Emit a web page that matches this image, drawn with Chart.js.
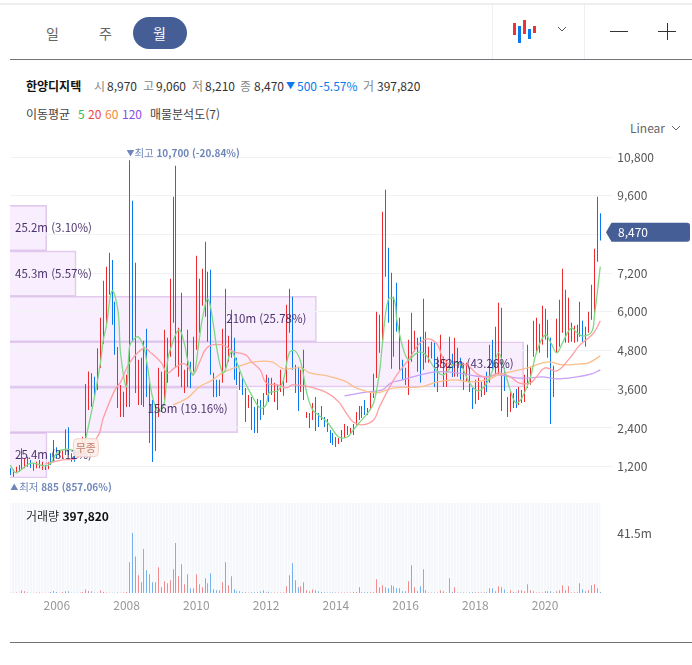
<!DOCTYPE html>
<html lang="ko">
<head>
<meta charset="utf-8">
<title>한양디지텍</title>
<script src="https://cdn.jsdelivr.net/npm/chart.js@4/dist/chart.umd.min.js"></script>
<style>
  html, body { margin: 0; padding: 0; background: #fff; }
  body { position: relative; width: 692px; height: 665px; overflow: hidden; font-family: 'Noto Sans CJK KR', 'Noto Sans', sans-serif; }
  canvas { position: absolute; left: 0; }
  .t { position: absolute; white-space: nowrap; font-size: 12px; line-height: 14px; color: #333; }
  .g { color: #888; }
  .line { position: absolute; }
  .pill { position: absolute; left: 133px; top: 17px; width: 54px; height: 32px; border-radius: 16px; background: #465e96; }
  .ico { position: absolute; width: 3px; }
</style>
</head>
<body>
<div class="line" style="left:0;top:3px;width:692px;height:2px;background:#eeeeee"></div>
<div class="line" style="left:10px;top:59px;width:682px;height:1px;background:#6f7479"></div>
<div class="line" style="left:492px;top:5px;width:1px;height:54px;background:#eef0f4"></div>
<div class="line" style="left:584px;top:5px;width:1px;height:54px;background:#eef0f4"></div>
<div class="pill"></div>
<span class="t" style="left:46px;top:26px;font-size:14px;color:#666">일</span>
<span class="t" style="left:99px;top:26px;font-size:14px;color:#666">주</span>
<span class="t" style="left:153px;top:26px;font-size:14px;color:#fff">월</span>
<div class="ico" style="left:513px;top:23px;height:12px;background:#ee3338"></div>
<div class="ico" style="left:518px;top:26px;height:17px;background:#0a78ee"></div>
<div class="ico" style="left:523px;top:20px;height:14px;background:#ee3338"></div>
<div class="ico" style="left:528px;top:29px;height:10px;background:#0a78ee"></div>
<div class="ico" style="left:533px;top:26px;height:7px;background:#ee3338"></div>
<svg style="position:absolute;left:557px;top:26px" width="10" height="7"><path d="M1 1 L5 5 L9 1" fill="none" stroke="#555" stroke-width="1"/></svg>
<div class="line" style="left:610px;top:31px;width:18px;height:1px;background:#333"></div>
<div class="line" style="left:658px;top:31px;width:18px;height:1px;background:#333"></div>
<div class="line" style="left:667px;top:23px;width:1px;height:17px;background:#333"></div>

<span class="t" style="left:26px;top:79px;font-weight:700;color:#111">한양디지텍</span>
<span class="t g" style="left:94px;top:79px">시</span><span class="t" style="left:107px;top:79px">8,970</span>
<span class="t g" style="left:143px;top:79px">고</span><span class="t" style="left:156px;top:79px">9,060</span>
<span class="t g" style="left:192px;top:79px">저</span><span class="t" style="left:205px;top:79px">8,210</span>
<span class="t g" style="left:240px;top:79px">종</span><span class="t" style="left:254px;top:79px">8,470</span>
<span class="t" style="left:286px;top:79px;color:#0a78ee;font-size:9px">▼</span>
<span class="t" style="left:297px;top:79px;color:#0a78ee">500</span>
<span class="t" style="left:319px;top:79px;color:#0a78ee">-5.57%</span>
<span class="t g" style="left:363px;top:79px">거</span><span class="t" style="left:377px;top:79px">397,820</span>

<span class="t" style="left:26px;top:107px;color:#444">이동평균</span>
<span class="t" style="left:78px;top:107px;color:#3cb54a">5</span>
<span class="t" style="left:88px;top:107px;color:#f0454a">20</span>
<span class="t" style="left:105px;top:107px;color:#f08a3c">60</span>
<span class="t" style="left:122px;top:107px;color:#8a4ee8">120</span>
<span class="t" style="left:150px;top:107px;color:#444">매물분석도(7)</span>
<span class="t" style="left:630px;top:121px;color:#666">Linear</span>
<svg style="position:absolute;left:671px;top:125px" width="10" height="7"><path d="M1 1 L5 5 L9 1" fill="none" stroke="#666" stroke-width="1"/></svg>

<canvas id="profileChart" width="692" height="318" style="top:160px;width:692px;height:318px"></canvas>
<canvas id="priceChart" width="692" height="360" style="top:140px;width:692px;height:360px"></canvas>
<canvas id="volumeChart" width="692" height="137" style="top:483px;width:692px;height:137px"></canvas>
<span class="t" style="left:26px;top:509px;color:#333">거래량 <b style="color:#111;font-weight:700">397,820</b></span>
<div class="line" style="left:10px;top:642px;width:682px;height:1px;background:#6f7479"></div>

<script>
// 월봉 데이터 (2004-09 ~ 2021-08)
const months = [];
for (let y = 2004, m = 9; months.length < 204; m++) {
  if (m > 12) { m = 1; y++; }
  months.push(y + '-' + String(m).padStart(2, '0'));
}

const highPrices = [
  1150,1120,1200,1250,1770,1460,1510,1410,1310,1355,1410,1355,1250,1355,1615,2030,1800,1720,1700,2360,
  2420,1620,1720,1665,1900,2130,3760,4150,4100,3990,4870,5815,6960,7400,7830,7610,6310,4910,3735,3520,
  4046,10700,9445,7521,4511,4573,5101,5473,3922,3270,3084,4263,4139,5442,5194,7025,9569,10531,5504,6590,
  4201,5442,4449,5225,7738,7025,7335,8173,7242,7304,4108,3891,3891,5473,6714,5256,6063,5194,4573,4139,
  3953,3642,3425,3363,3053,3301,3270,3487,4046,3953,3953,3798,3735,4201,3950,6218,6714,6466,4356,4294,
  4201,4822,2898,2867,3177,3363,2867,3084,2743,2680,2339,2246,2122,2091,2339,2525,2463,2401,2525,2898,
  3084,3084,3270,3022,3487,4077,6001,5907,9104,9786,7987,7211,6466,6900,5814,4511,4263,5132,5970,5411,
  5194,5225,6404,5380,4915,5070,5039,4604,5287,4604,4511,5225,4700,5194,4884,4573,4418,4418,4294,3642,
  3891,3953,3829,3953,4139,4977,5132,5535,6280,6125,4263,3363,3580,3487,3611,3673,3580,4046,4977,4294,
  5721,5814,5628,6187,6094,5752,5194,4325,5783,6373,7335,6683,6435,5659,5566,5597,6311,5721,5535,6001,
  6838,7956,9569,9060
];
const lowPrices = [
  940,885,995,1045,1100,1150,1200,1160,1075,1150,1150,1100,1100,1120,1250,1355,1460,1510,1450,1560,
  1560,1355,1355,1470,1510,1925,2080,2960,3060,3370,3580,4260,5005,5630,6530,5600,4670,3020,2740,2740,
  3053,3053,5070,3487,3115,3115,3053,3363,1936,1346,1687,2743,2898,3270,3798,4604,5659,4263,3984,3673,
  3487,3673,3642,4139,4822,5349,6187,5845,5070,4046,3363,3363,3394,3798,4263,4449,4573,3891,3735,3580,
  3425,2587,3022,2339,2246,2246,2649,2805,3425,3208,3425,3208,2960,3518,3400,3798,5349,4201,3487,2929,
  3518,3270,2712,2401,2649,2308,2432,2649,2432,2277,1936,1874,1811,1905,1967,2091,2184,2215,2184,2494,
  2649,2711,2805,2805,2960,3332,3950,4728,4977,7087,5659,4232,4604,5380,4201,3891,3735,3425,4449,4760,
  4139,3798,4201,4418,4418,4550,3673,3518,4263,3673,3673,4201,3980,3984,3984,3891,3580,3829,3518,2991,
  3146,3270,3363,3425,3518,3798,4201,4046,4046,2929,3549,2743,2898,3022,3022,3115,3177,3208,3642,3736,
  4604,4728,4728,4977,5132,4573,2525,3363,4728,4915,5349,5039,5039,5070,5039,5070,5225,5070,4915,5349,
  5752,5907,7552,8210
];
// 1 = 상승(빨강), 0 = 하락(파랑)
const isUp = [
  0,0,1,1,1,1,0,0,1,1,0,1,1,1,0,1,0,0,1,1,
  0,0,0,1,1,1,1,1,1,0,1,1,1,1,0,0,0,0,1,1,
  1,1,0,0,1,0,1,0,1,0,1,1,0,1,1,1,1,0,1,0,
  1,0,0,1,1,1,1,0,1,0,0,0,1,1,0,1,1,0,0,0,
  0,0,1,0,0,1,0,1,1,0,1,1,0,1,0,1,1,0,0,0,
  1,0,1,0,1,0,0,0,0,0,0,0,0,1,1,1,1,1,1,1,
  0,0,0,0,1,1,1,1,1,1,0,0,1,0,0,0,0,1,0,1,
  0,0,1,0,1,1,0,1,1,0,1,1,0,1,0,0,0,1,0,0,
  1,1,1,1,0,1,0,0,1,0,0,0,1,0,0,1,0,1,1,1,
  1,1,0,1,0,0,0,1,1,1,1,0,1,0,1,1,0,0,1,1,
  1,1,1,0
];
const volumes = [
  0.1,0.1,0.4,0.1,1.8,1.2,0.4,0.1,0.1,0.4,0.4,0.1,0.1,0.1,0.7,1.4,0.7,0.1,0.7,1.2,
  1.2,0.1,0.1,0.1,0.4,0.7,2.5,1.4,1.2,0.4,0.4,1.8,0.7,0.4,0.1,0.1,0.1,0.4,0.1,0.4,
  0.7,21.3,41.5,25.3,12.3,7.4,30.4,15.8,13,7.4,7.4,17.8,3.9,8.1,6.7,8.8,16.5,34.5,11.6,19.9,
  6,13,3.2,3.2,13,6,3.9,10.2,6.7,13.7,2.5,1.9,1.9,7.4,21.3,5.3,11.6,2.5,1.2,1.2,
  0.5,0.5,0.4,0.5,0.5,0.5,1,1.9,0.5,0.9,0.4,0.4,0.4,0.3,0.3,4.6,12.3,20.6,8.8,3.9,
  4.6,7.4,1.9,1.2,2.5,1.9,1.2,0.7,0.5,0.3,0.3,0.3,0.3,0.3,0.3,0.3,0.3,0.3,0.7,0.7,
  3.9,0.5,0.6,0.6,0.6,0.6,9.5,3.9,5.3,3.9,3.2,5.3,4.6,3.2,3.2,1.2,1.2,8.1,19.2,3.9,
  1.2,4.6,16.5,1.9,0.4,0.4,0.4,0.4,1.9,1.2,0.4,10.2,0.7,3.9,0.4,0.4,0.4,0.2,0.5,0.5,
  0.5,0.5,0.5,0.5,0.5,3.2,3.2,1.2,4.6,3.9,2.5,0.4,1.9,0.7,0.3,1.9,1.9,1.2,6,1.9,
  1.2,0.4,0.4,0.4,1.2,1.2,1.2,0.4,1.2,1.9,5.3,1.9,4.6,0.4,0.5,0.5,6.7,2.5,1.2,1.9,
  5.3,6,3.2,0.7
];

// 이동평균선 (그림에서 읽은 지점만)
const ma5At = [0,2,7,12,14,16,19,22,25,26,29,31,32,33,35,37,38,40,41,42,44,46,47,49,51,53,54,55,58,60,61,63,65,66,68,70,71,73,74,76,78,80,83,86,88,89,92,94,96,98,100,102,104,106,109,111,113,116,118,120,123,125,127,128,130,132,133,135,137,139,141,143,146,149,153,155,158,161,164,166,168,170,172,174,176,179,181,184,186,188,190,193,195,197,200,201,203];
const ma5Values = [1250,1015,1305,1220,1315,1625,1740,1695,1670,2080,3370,4410,5130,5535,6650,6060,4665,3675,4915,5100,5225,4880,4420,3330,2900,3175,4420,4820,5440,4975,4510,4045,5130,5750,6400,5535,4880,4105,4200,4760,4420,3950,3425,3020,3115,3485,3550,3890,4730,4790,4420,3485,2960,2805,2585,2340,2120,2120,2340,2555,2865,3175,4110,4975,6370,6400,5750,4915,4510,4665,4760,4665,4260,4045,4420,4355,3795,3550,3795,4200,4730,4200,3580,3175,3330,3985,4730,5285,5040,4730,5040,5500,5350,5250,5375,5900,7400];
const ma20At = [12,18,23,30,32,36,38,41,46,48,52,54,57,60,63,65,68,73,77,81,83,86,88,92,95,97,103,109,113,116,118,121,125,127,130,133,137,141,144,147,149,152,157,161,165,168,172,175,179,181,184,188,192,196,199,201,203];
const ma20Values = [1284,1408,1470,2122,2711,3580,3828,4418,4883,4759,4418,4107,4294,4387,4076,4418,4914,4976,4759,4666,4449,4201,3797,3735,3642,3735,3673,3487,3208,2804,2587,2494,2649,3052,3580,4045,4511,5038,5162,4976,4542,4356,4356,4045,3983,4108,3983,3797,3797,3983,4263,4170,4511,4976,5193,5380,5721];
const ma60At = [56,61,65,69,73,78,84,90,94,100,103,109,115,119,126,132,141,147,153,158,164,168,178,185,190,196,199,203];
const ma60Values = [3115,3332,3673,3859,4107,4294,4449,4449,4232,4263,4107,4014,3859,3642,3487,3642,3673,3828,3890,3828,3890,4045,4263,4449,4356,4387,4418,4635];
const ma120At = [115,123,128,131,135,141,146,150,156,163,168,174,179,183,188,195,200,203];
const ma120Values = [3393,3518,3580,3797,3890,4045,4138,4138,4076,3983,4045,3952,3952,3983,3921,3983,4076,4201];

// 매물분석도 (위쪽 구간부터)
const profileBands = ['9297-10700','7895-9297','6493-7895','5091-6493','3689-5091','2287-3689','885-2287'];
const profileEdges = [10700,9297,7895,6493,5091,3689,2287,885];
const profileVolumes = [0, 25.2, 45.3, 210, 352, 156, 25.4];
const profileLabels = ['', '25.2m (3.10%)', '45.3m (5.57%)', '210m (25.78%)', '352m (43.26%)', '156m (19.16%)', '25.4m (3.12%)'];

const priceTicks = [1200,2400,3600,4800,6000,7200,8400,9600,10800];
const hiddenPriceTick = 8400;
const volumeTicks = [41.5];
const lastClose = 8470;
const highMonth = '2008-02';
const lowMonth = '2004-10';
const eventMonth = '2006-11';
const eventPrice = 1790;
const eventLabel = '무종';

const RED = '#ee2a2e', BLUE = '#0a78ee';
const FONT = "'Noto Sans CJK KR', 'Noto Sans', sans-serif";

// 두 차트의 폭을 맞추기 위한 값
const axisWidth = 91.7;

function lineSet(label, at, values, color) {
  return {
    type: 'line', label, order: 1,
    data: at.map((m, k) => ({ x: months[m], y: values[k] })),
    borderColor: color, borderWidth: 1.3, pointRadius: 0, tension: 0.4, fill: false, clip: false
  };
}

// 봉이 번지지 않게 픽셀에 맞춘다
const snapBars = {
  id: 'snapBars',
  afterDatasetsUpdate(chart) {
    chart.getSortedVisibleDatasetMetas().forEach(meta => {
      if (meta.type !== 'bar') return;
      meta.data.forEach(bar => { bar.x = Math.floor(bar.x) + 0.5; });
    });
  }
};

// 매물분석도는 시세 차트 뒤에 따로 그린다
const profileChart = new Chart(document.getElementById('profileChart').getContext('2d'), {
  type: 'bar',
  data: {
    labels: profileBands,
    datasets: [{
      label: '매물', data: profileVolumes,
      backgroundColor: 'rgba(235,198,248,0.3)',
      borderColor: 'rgba(205,170,225,0.6)', borderWidth: 1,
      barPercentage: 1, categoryPercentage: 1
    }]
  },
  options: {
    indexAxis: 'y',
    responsive: false,
    animation: false,
    layout: { padding: { left: 10, right: 91, top: 0, bottom: 0 } },
    plugins: { legend: { display: false }, tooltip: { enabled: false } },
    scales: {
      x: { display: false, min: 0, max: 405 },
      y: { display: false }
    }
  }
});

// 라벨, 최고/최저, 현재가 표시
const overlay = {
  id: 'overlay',
  afterDraw(chart) {
    const { ctx, scales } = chart;
    const { x, y } = scales;
    ctx.save();
    ctx.textBaseline = 'middle';

    // 매물 라벨
    ctx.font = '11.5px ' + FONT;
    ctx.fillStyle = 'rgba(58,30,92,0.92)';
    profileLabels.forEach((txt, i) => {
      if (!txt) return;
      const w = ctx.measureText(txt).width;
      const end = profileChart.scales.x.getPixelForValue(profileVolumes[i]);
      const mid = (profileEdges[i] + profileEdges[i + 1]) / 2;
      ctx.fillText(txt, Math.max(15, end - 10 - w), y.getPixelForValue(mid));
    });

    // 최고
    const hx = x.getPixelForValue(months.indexOf(highMonth));
    const hy = y.getPixelForValue(Math.max(...highPrices));
    ctx.fillStyle = '#6f86b9';
    ctx.font = '8px ' + FONT;
    ctx.fillText('▼', hx - 3, hy - 7);
    ctx.font = '10.5px ' + FONT;
    ctx.fillText('최고', hx + 5, hy - 7);
    ctx.font = '700 10px ' + FONT;
    ctx.fillText('10,700 (-20.84%)', hx + 27, hy - 7);

    // 최저
    const lx = x.getPixelForValue(months.indexOf(lowMonth));
    const ly = y.getPixelForValue(Math.min(...lowPrices));
    ctx.font = '8px ' + FONT;
    ctx.fillText('▲', lx - 3, ly + 10);
    ctx.font = '10.5px ' + FONT;
    ctx.fillText('최저', lx + 6, ly + 10);
    ctx.font = '700 10px ' + FONT;
    ctx.fillText('885 (857.06%)', lx + 28, ly + 10);

    // 무종 뱃지
    const bx = x.getPixelForValue(months.indexOf(eventMonth));
    const by = y.getPixelForValue(eventPrice);
    ctx.beginPath();
    ctx.roundRect(bx - 12.5, by - 9, 25, 18, 4);
    ctx.fillStyle = 'rgba(253,238,233,0.9)';
    ctx.fill();
    ctx.strokeStyle = '#f0d3ca';
    ctx.stroke();
    ctx.fillStyle = '#c47f72';
    ctx.font = '11px ' + FONT;
    ctx.textAlign = 'center';
    ctx.fillText(eventLabel, bx, by);
    ctx.textAlign = 'left';

    // 현재가 태그
    const ty = y.getPixelForValue(lastClose);
    ctx.beginPath();
    ctx.moveTo(606, ty);
    ctx.lineTo(611.5, ty - 9.5);
    ctx.lineTo(687, ty - 9.5);
    ctx.quadraticCurveTo(690, ty - 9.5, 690, ty - 6.5);
    ctx.lineTo(690, ty + 6.5);
    ctx.quadraticCurveTo(690, ty + 9.5, 687, ty + 9.5);
    ctx.lineTo(611.5, ty + 9.5);
    ctx.closePath();
    ctx.fillStyle = '#465e96';
    ctx.fill();
    ctx.fillStyle = '#fff';
    ctx.font = '12px ' + FONT;
    ctx.fillText(lastClose.toLocaleString('en-US'), 618, ty);
    ctx.restore();
  }
};

new Chart(document.getElementById('priceChart').getContext('2d'), {
  type: 'bar',
  data: {
    labels: months,
    datasets: [
      lineSet('5', ma5At, ma5Values, '#7fd884'),
      lineSet('20', ma20At, ma20Values, '#ff9ea2'),
      lineSet('60', ma60At, ma60Values, '#fbbf8a'),
      lineSet('120', ma120At, ma120Values, '#c8a0f5'),
      {
        label: '시세', order: 2,
        data: lowPrices.map((low, i) => [low, highPrices[i]]),
        backgroundColor: isUp.map(u => u ? RED : BLUE),
        barThickness: 1, inflateAmount: 0, clip: false
      }
    ]
  },
  options: {
    responsive: false,
    animation: false,
    layout: { padding: { left: 10.3, top: 17, bottom: 22, right: 0 } },
    plugins: { legend: { display: false }, tooltip: { enabled: false } },
    scales: {
      x: { type: 'category', display: false, offset: false },
      y: {
        type: 'linear', position: 'right', min: 849, max: 10800,
        afterBuildTicks: s => { s.ticks = priceTicks.map(v => ({ value: v })); },
        afterFit: s => { s.width = axisWidth; },
        border: { display: false },
        grid: { color: '#f1f2f5', tickColor: '#f1f2f5', tickLength: 12 },
        ticks: {
          autoSkip: false, padding: 5, color: '#555',
          font: { family: FONT, size: 12 },
          callback: v => v === hiddenPriceTick ? '' : v.toLocaleString('en-US')
        }
      }
    }
  },
  plugins: [snapBars, overlay]
});

const stripeBg = {
  id: 'stripeBg',
  beforeDraw(chart) {
    const { ctx, chartArea: a } = chart;
    ctx.fillStyle = '#f6f7fb';
    ctx.fillRect(a.left, a.top, a.right - a.left, a.bottom - a.top);
  }
};

new Chart(document.getElementById('volumeChart').getContext('2d'), {
  type: 'bar',
  data: {
    labels: months,
    datasets: [{
      label: '거래량',
      data: volumes,
      backgroundColor: isUp.map(u => u ? '#f28b8e' : '#74b2f0'),
      barThickness: 1, inflateAmount: 0, clip: false
    }]
  },
  options: {
    responsive: false,
    animation: false,
    layout: { padding: { left: 10.3, top: 20, right: 0, bottom: 0 } },
    plugins: { legend: { display: false }, tooltip: { enabled: false } },
    scales: {
      x: {
        offset: false,
        border: { display: false },
        afterFit: s => { s.height = 27; },
        grid: { color: '#fbfcfe', tickLength: 0, drawTicks: false },
        ticks: {
          autoSkip: false, maxRotation: 0, padding: 5, color: '#999',
          font: { family: FONT, size: 12 },
          callback: function (v) {
            const [yy, mm] = months[v].split('-');
            return mm === '01' && +yy % 2 === 0 ? yy : '';
          }
        }
      },
      y: {
        position: 'right', min: 0, max: 62.25,
        afterBuildTicks: s => { s.ticks = volumeTicks.map(v => ({ value: v })); },
        afterFit: s => { s.width = axisWidth; },
        border: { display: false },
        grid: { drawOnChartArea: false, color: 'rgba(0,0,0,0)', tickLength: 12 },
        ticks: {
          autoSkip: false, padding: 5, color: '#555',
          font: { family: FONT, size: 12 },
          callback: v => v + 'm'
        }
      }
    }
  },
  plugins: [snapBars, stripeBg]
});
</script>
</body>
</html>
